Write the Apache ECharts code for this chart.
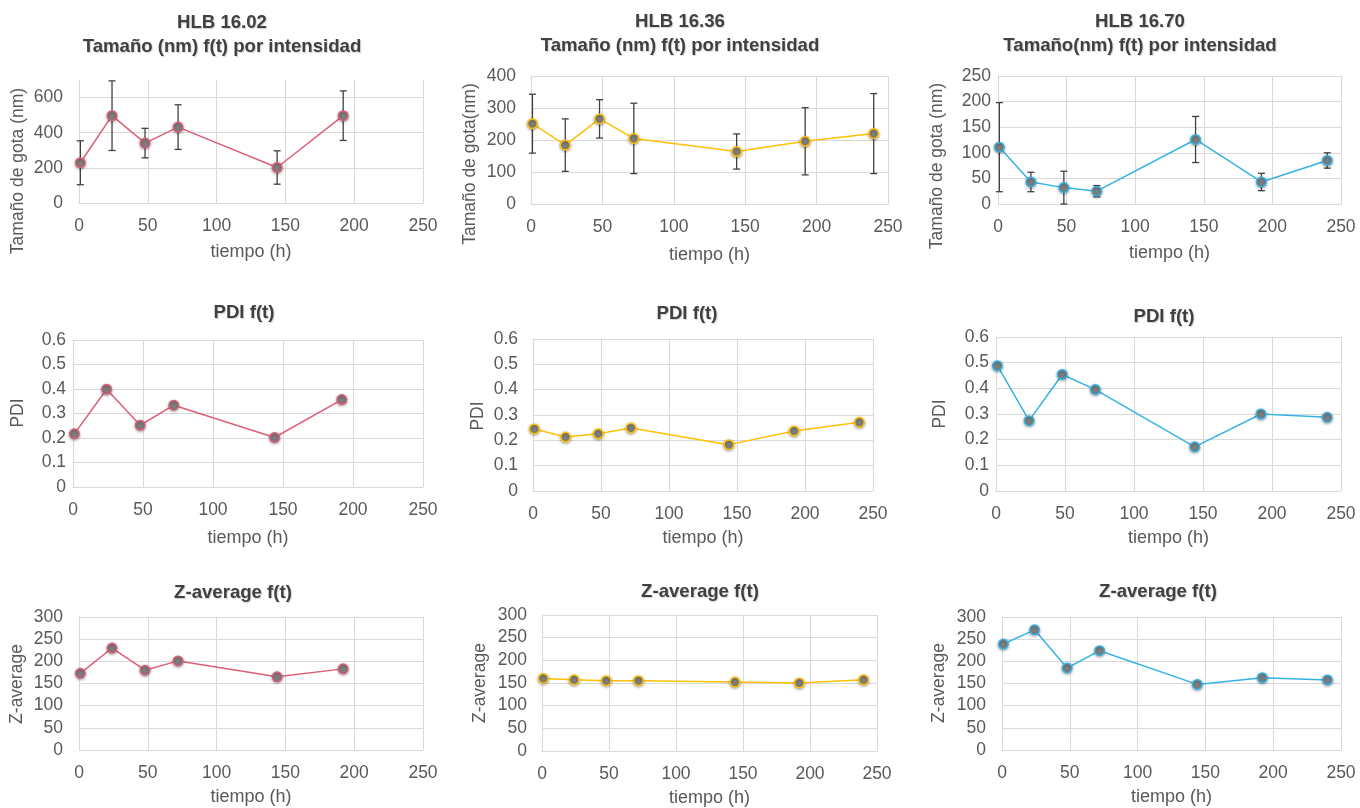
<!DOCTYPE html>
<html>
<head>
<meta charset="utf-8">
<script src="https://cdn.jsdelivr.net/npm/echarts@6/dist/echarts.min.js"></script>
<style>
  html, body { margin: 0; padding: 0; background: #ffffff; }
  #chart { width: 1360px; height: 808px; }
</style>
</head>
<body>
<div id="chart"></div>
<script>
// Sampling times (h) for each HLB formulation
const tiempo1602 = [1, 24, 48, 72, 144, 192];
const tiempo1636 = [1, 24, 48, 72, 144, 192, 240];
const tiempo1670 = [1, 24, 48, 72, 144, 192, 240];

// Droplet size by intensity (nm) and its standard deviation
const tamano1602 = [229, 497, 341, 432, 202, 497];
const desv1602 = [125, 198, 84, 127, 95, 141];
const tamano1636 = [251, 184, 266, 205, 164, 196, 220];
const desv1636 = [92, 82, 60, 110, 55, 105, 125];
const tamano1670 = [111, 43, 32, 25, 126, 43, 85];
const desv1670 = [87, 19, 32, 11, 45, 17, 15];

// Polydispersity index
const pdi1602 = [0.217, 0.399, 0.252, 0.334, 0.202, 0.357];
const pdi1636 = [0.245, 0.213, 0.226, 0.249, 0.183, 0.237, 0.271];
const pdi1670 = [0.488, 0.274, 0.454, 0.395, 0.172, 0.300, 0.287];

// Z-average (nm)
const zavg1602 = [173, 230, 180, 201, 165, 183];
const zavg1636 = [160, 157, 155, 155, 152, 150, 157];
const zavg1670 = [239, 271, 185, 224, 148, 163, 158];

const FONT = 'Liberation Sans, Arial, sans-serif';
const ROJO = '#dd5f77';
const AMARILLO = '#ffc000';
const AZUL = '#35b3e4';
const GRID_COLOR = '#d9d9d9';
const LABEL_COLOR = '#595959';
const TITLE_COLOR = '#404040';

// Layout and content of each small chart
const panels = [
  { title: 'HLB 16.02\nTamaño (nm) f(t) por intensidad', tx: 222, ty: 11,
    grid: [79, 80, 344, 123], yMax: 700, yInt: 200, hideMax: true, yMargin: 16,
    yName: 'Tamaño de gota (nm)', nx: 18, ny: 171, xGap: 40,
    x: tiempo1602, y: tamano1602, err: desv1602, color: ROJO },
  { title: 'HLB 16.36\nTamaño (nm) f(t) por intensidad', tx: 680, ty: 10,
    grid: [531, 76, 357, 128], yMax: 400, yInt: 100, yMargin: 15,
    yName: 'Tamaño de gota(nm)', nx: 470, ny: 164, xGap: 42,
    x: tiempo1636, y: tamano1636, err: desv1636, color: AMARILLO },
  { title: 'HLB 16.70\nTamaño(nm) f(t) por intensidad', tx: 1140, ty: 10,
    grid: [998, 76, 343, 128], yMax: 250, yInt: 50, yMargin: 7,
    yName: 'Tamaño de gota (nm)', nx: 937, ny: 166, xGap: 40,
    x: tiempo1670, y: tamano1670, err: desv1670, color: AZUL },
  { title: 'PDI f(t)', tx: 244, ty: 301,
    grid: [73, 340, 350, 147], yMax: 0.6, yInt: 0.1, yMargin: 7,
    yName: 'PDI', nx: 18, ny: 413, xGap: 42,
    x: tiempo1602, y: pdi1602, color: ROJO },
  { title: 'PDI f(t)', tx: 687, ty: 302,
    grid: [533, 339, 340, 152], yMax: 0.6, yInt: 0.1, yMargin: 15,
    yName: 'PDI', nx: 478, ny: 416, xGap: 38,
    x: tiempo1636, y: pdi1636, color: AMARILLO },
  { title: 'PDI f(t)', tx: 1164, ty: 305,
    grid: [996, 337, 345, 154], yMax: 0.6, yInt: 0.1, yMargin: 7,
    yName: 'PDI', nx: 940, ny: 414, xGap: 38,
    x: tiempo1670, y: pdi1670, color: AZUL },
  { title: 'Z-average f(t)', tx: 233, ty: 581,
    grid: [79, 617, 344, 133], yMax: 300, yInt: 50, yMargin: 16,
    yName: 'Z-average', nx: 17, ny: 684, xGap: 38,
    x: tiempo1602, y: zavg1602, color: ROJO },
  { title: 'Z-average f(t)', tx: 700, ty: 580,
    grid: [542, 615, 335, 136], yMax: 300, yInt: 50, yMargin: 15,
    yName: 'Z-average', nx: 480, ny: 683, xGap: 38,
    x: tiempo1636, y: zavg1636, color: AMARILLO },
  { title: 'Z-average f(t)', tx: 1158, ty: 580,
    grid: [1002, 617, 339, 133], yMax: 300, yInt: 50, yMargin: 16,
    yName: 'Z-average', nx: 939, ny: 683, xGap: 38,
    x: tiempo1670, y: zavg1670, color: AZUL }
];

const option = {
  backgroundColor: '#ffffff',
  animation: false,
  title: [], grid: [], xAxis: [], yAxis: [], series: [], graphic: []
};

// Vertical error bar with short caps
function renderErrorBar(params, api) {
  const lo = api.coord([api.value(0), api.value(1)]);
  const hi = api.coord([api.value(0), api.value(2)]);
  const cap = 3.5;
  const style = { stroke: '#404040', lineWidth: 1.3 };
  return {
    type: 'group',
    children: [
      { type: 'line', shape: { x1: lo[0], y1: lo[1], x2: hi[0], y2: hi[1] }, style },
      { type: 'line', shape: { x1: lo[0] - cap, y1: lo[1], x2: lo[0] + cap, y2: lo[1] }, style },
      { type: 'line', shape: { x1: hi[0] - cap, y1: hi[1], x2: hi[0] + cap, y2: hi[1] }, style }
    ]
  };
}

panels.forEach((p, i) => {
  option.title.push({
    text: p.title,
    left: p.tx, top: p.ty, textAlign: 'center', padding: 0,
    textStyle: { fontFamily: FONT, fontSize: 18.6, fontWeight: 'bold', color: TITLE_COLOR, lineHeight: 24,
      textShadowColor: 'rgba(0,0,0,0.18)', textShadowBlur: 1, textShadowOffsetX: 1, textShadowOffsetY: 1 }
  });
  option.grid.push({ left: p.grid[0], top: p.grid[1], width: p.grid[2], height: p.grid[3], containLabel: false });
  option.xAxis.push({
    type: 'value', gridIndex: i, min: 0, max: 250, interval: 50,
    name: 'tiempo (h)', nameLocation: 'middle', nameGap: p.xGap,
    nameTextStyle: { fontFamily: FONT, fontSize: 18, color: LABEL_COLOR },
    axisLine: { show: true, lineStyle: { color: GRID_COLOR, width: 1 } },
    axisTick: { show: false },
    axisLabel: { fontFamily: FONT, fontSize: 17.5, color: LABEL_COLOR, margin: 14 },
    splitLine: { show: true, lineStyle: { color: GRID_COLOR, width: 1 } }
  });
  option.yAxis.push({
    type: 'value', gridIndex: i, min: 0, max: p.yMax, interval: p.yInt,
    axisLine: { show: true, lineStyle: { color: GRID_COLOR, width: 1 } },
    axisTick: { show: false },
    axisLabel: { fontFamily: FONT, fontSize: 17.5, color: LABEL_COLOR, margin: p.yMargin,
      showMaxLabel: !p.hideMax },
    splitLine: { show: true, showMaxLine: !p.hideMax, lineStyle: { color: GRID_COLOR, width: 1 } }
  });
  option.graphic.push({
    type: 'text', x: p.nx, y: p.ny, rotation: Math.PI / 2,
    style: { text: p.yName, fontFamily: FONT, fontSize: 17.5, fill: LABEL_COLOR,
      textAlign: 'center', textVerticalAlign: 'middle' }
  });
  if (p.err) {
    option.series.push({
      type: 'custom', xAxisIndex: i, yAxisIndex: i, z: 1,
      renderItem: renderErrorBar,
      encode: { x: 0, y: [1, 2] },
      data: p.x.map((t, k) => [t, p.y[k] - p.err[k], p.y[k] + p.err[k]])
    });
  }
  option.series.push({
    type: 'line', xAxisIndex: i, yAxisIndex: i, z: 3,
    data: p.x.map((t, k) => [t, p.y[k]]),
    symbol: 'circle', symbolSize: 9.5,
    lineStyle: { color: p.color, width: 1.5 },
    itemStyle: { color: '#7f7f7f', borderColor: p.color, borderWidth: 1.5,
      shadowBlur: 3, shadowColor: 'rgba(0,0,0,0.35)', shadowOffsetY: 1 }
  });
});

const chart = echarts.init(document.getElementById('chart'), null, { renderer: 'canvas' });
chart.setOption(option);
</script>
</body>
</html>
